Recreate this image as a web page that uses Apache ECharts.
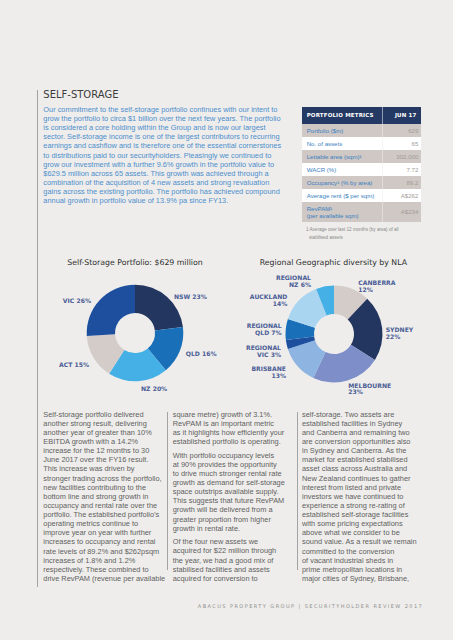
<!DOCTYPE html>
<html>
<head>
<meta charset="utf-8">
<script src="https://cdn.jsdelivr.net/npm/echarts@6/dist/echarts.min.js"></script>
<style>
html,body{margin:0;padding:0;background:#eeedeb;}
#page{position:relative;width:453px;height:640px;overflow:hidden;background:#eeedeb;}
#chart{position:absolute;left:0;top:0;width:453px;height:640px;}
.abs{position:absolute;white-space:nowrap;}
.vline{position:absolute;width:0.8px;background:#a3a3a3;}
#sectitle{left:43.3px;top:89px;font:10px/12px "DejaVu Sans",sans-serif;color:#3c3c3c;}
#intro{left:43.3px;top:104.7px;font:7.4px/9.17px "Liberation Sans",Arial,sans-serif;color:#4d8ecb;}
.col{position:absolute;top:409.7px;font:7.4px/9.12px "Liberation Sans",Arial,sans-serif;color:#5f5f5f;white-space:nowrap;}
.col p{margin:0 0 4.5px 0;}
#tbl{position:absolute;left:301.7px;top:106.7px;width:119px;}
.row{position:absolute;left:0;width:119px;}
.lab{position:absolute;left:5px;font:6.1px/7.3px "Liberation Sans",Arial,sans-serif;color:#3a7fc2;white-space:nowrap;}
.val{position:absolute;right:2.4px;font:6.1px/7.3px "Liberation Sans",Arial,sans-serif;color:#a29c98;white-space:nowrap;}
.hd{position:absolute;font:bold 5.5px/7px "DejaVu Sans",sans-serif;color:#fff;white-space:nowrap;letter-spacing:0.15px;}
#foot{left:306px;top:226.4px;font:4.6px/7.3px "Liberation Sans",Arial,sans-serif;color:#8a8a8a;}
#footer{right:29.8px;top:602.5px;font:5px/6px "DejaVu Sans",sans-serif;color:#8f8f8f;letter-spacing:1.44px;}
</style>
</head>
<body>
<div id="page">
  <div id="chart"></div>
  <div class="vline" style="left:37.3px;top:90px;height:497px;"></div>
  <div class="vline" style="left:166.8px;top:411.7px;height:158.5px;"></div>
  <div class="vline" style="left:296.8px;top:411.7px;height:158.5px;"></div>
  <div id="sectitle" class="abs">SELF-STORAGE</div>
  <div id="intro" class="abs"></div>
  <div id="tbl"></div>
  <div id="foot" class="abs">1 Average over last 12 months (by area) of all<br><span style="padding-left:3px">stabilised assets</span></div>
  <div id="col1" class="col" style="left:43.3px;"></div>
  <div id="col2" class="col" style="left:172.7px;"></div>
  <div id="col3" class="col" style="left:302px;"></div>
  <div id="footer" class="abs">ABACUS PROPERTY GROUP | SECURITYHOLDER REVIEW 2017</div>
</div>
<script>
// ---------- chart data ----------
const portfolioStates = ['NSW', 'QLD', 'NZ', 'ACT', 'VIC'];
const portfolioShares = [23, 16, 20, 15, 26];
const portfolioColors = ['#23365f', '#1a70b8', '#45b0e5', '#d3ccc8', '#1d4f9e'];

const regionNames = ['Canberra', 'Sydney', 'Melbourne', 'Brisbane', 'Regional VIC', 'Regional QLD', 'Auckland', 'Regional NZ'];
const regionShares = [12, 22, 23, 13, 3, 7, 14, 6];
const regionColors = ['#d3ccc8', '#23365f', '#7d8ec9', '#8eb4e2', '#1d4f9e', '#1a70b8', '#a9d5f1', '#45b0e5'];

const chartTitles = ['Self-Storage Portfolio: $629 million', 'Regional Geographic diversity by NLA'];

// ---------- table data ----------
const metricsHeader = ['PORTFOLIO METRICS', 'JUN 17'];
const metricLabels = ['Portfolio ($m)', 'No. of assets', 'Lettable area (sqm)¹', 'WACR (%)', 'Occupancy¹ (% by area)', 'Average rent ($ per sqm)', 'RevPAM¹<br>(per available sqm)'];
const metricValues = ['629', '65', '302,000', '7.72', '89.2', 'A$262', 'A$234'];

// ---------- text ----------
const introLines = [
 'Our commitment to the self-storage portfolio continues with our intent to',
 'grow the portfolio to circa $1 billion over the next few years. The portfolio',
 'is considered a core holding within the Group and is now our largest',
 'sector. Self-storage income is one of the largest contributors to recurring',
 'earnings and cashflow and is therefore one of the essential cornerstones',
 'to distributions paid to our securityholders. Pleasingly we continued to',
 'grow our investment with a further 9.6% growth in the portfolio value to',
 '$629.5 million across 65 assets. This growth was achieved through a',
 'combination of the acquisition of 4 new assets and strong revaluation',
 'gains across the existing portfolio. The portfolio has achieved compound',
 'annual growth in portfolio value of 13.9% pa since FY13.'
];
const col1Paras = [[
 'Self-storage portfolio delivered',
 'another strong result, delivering',
 'another year of greater than 10%',
 'EBITDA growth with a 14.2%',
 'increase for the 12 months to 30',
 'June 2017 over the FY16 result.',
 'This increase was driven by',
 'stronger trading across the portfolio,',
 'new facilities contributing to the',
 'bottom line and strong growth in',
 'occupancy and rental rate over the',
 'portfolio. The established portfolio\u2019s',
 'operating metrics continue to',
 'improve year on year with further',
 'increases to occupancy and rental',
 'rate levels of 89.2% and $262psqm',
 'increases of 1.8% and 1.2%',
 'respectively. These combined to',
 'drive RevPAM (revenue per available'
]];
const col2Paras = [[
 'square metre) growth of 3.1%.',
 'RevPAM is an important metric',
 'as it highlights how efficiently your',
 'established portfolio is operating.'
],[
 'With portfolio occupancy levels',
 'at 90% provides the opportunity',
 'to drive much stronger rental rate',
 'growth as demand for self-storage',
 'space outstrips available supply.',
 'This suggests that future RevPAM',
 'growth will be delivered from a',
 'greater proportion from higher',
 'growth in rental rate.'
],[
 'Of the four new assets we',
 'acquired for $22 million through',
 'the year, we had a good mix of',
 'stabilised facilities and assets',
 'acquired for conversion to'
]];
const col3Paras = [[
 'self-storage. Two assets are',
 'established facilities in Sydney',
 'and Canberra and remaining two',
 'are conversion opportunities also',
 'in Sydney and Canberra. As the',
 'market for established stabilised',
 'asset class across Australia and',
 'New Zealand continues to gather',
 'interest from listed and private',
 'investors we have continued to',
 'experience a strong re-rating of',
 'established self-storage facilities',
 'with some pricing expectations',
 'above what we consider to be',
 'sound value. As a result we remain',
 'committed to the conversion',
 'of vacant industrial sheds in',
 'prime metropolitan locations in',
 'major cities of Sydney, Brisbane,'
]];

function esc(s){return s.replace(/&/g,'&amp;').replace(/</g,'&lt;');}
document.getElementById('intro').innerHTML = introLines.map(esc).join('<br>');
function fillCol(id, paras){
  document.getElementById(id).innerHTML = paras.map(p => '<p>' + p.map(esc).join('<br>') + '</p>').join('');
}
fillCol('col1', col1Paras); fillCol('col2', col2Paras); fillCol('col3', col3Paras);

// table
(function(){
  const tbl = document.getElementById('tbl');
  let html = '<div class="row" style="top:0;height:17px;background:#243a64;">' +
    '<div class="hd" style="left:5px;top:5px;">' + metricsHeader[0] + '</div>' +
    '<div class="hd" style="right:4.2px;top:5px;">' + metricsHeader[1] + '</div></div>';
  let y = 17.8;
  metricLabels.forEach((lab, i) => {
    const last = i === metricLabels.length - 1;
    const h = last ? 20.1 : 12.9;
    const bg = i % 2 === 0 ? '#cfc8c4' : '#ffffff';
    const lt = last ? (h - 14.6) / 2 : (h - 7.3) / 2;
    html += '<div class="row" style="top:' + y + 'px;height:' + h + 'px;background:' + bg + ';">' +
      '<div class="lab" style="top:' + lt + 'px;">' + lab + '</div>' +
      '<div class="val" style="top:' + ((h - 7.3) / 2) + 'px;">' + metricValues[i] + '</div></div>';
    y += h;
  });
  html += '<div style="position:absolute;left:80px;top:0;width:1px;height:' + y + 'px;background:rgba(238,237,235,0.55);"></div>';
  tbl.innerHTML = html;
})();

// ---------- chart ----------
const leftLabelPos = [[174, 296, 'left'], [185.7, 353, 'left'], [141, 388.5, 'left'], [89, 364, 'right'], [91, 300, 'right']];
const rightLabelPos = [[358.3, 286, 'left'], [385.7, 332.7, 'left'], [348.3, 388.5, 'left'], [286, 371.9, 'right'], [281, 350.7, 'right'], [281.7, 329.3, 'right'], [287.3, 300, 'right'], [311, 281.3, 'right']];

const labelStyle = {color: '#4b5d96', fontFamily: 'DejaVu Sans', fontWeight: 'bold', fontSize: 6.1, lineHeight: 6.7};
const titleStyle = {fontFamily: 'DejaVu Sans', fontSize: 7.8, fontWeight: 'normal', color: '#2f2f2f'};

const chart = echarts.init(document.getElementById('chart'), null, {renderer: 'svg'});
chart.setOption({
  animation: false,
  backgroundColor: 'transparent',
  title: [
    {text: chartTitles[0], left: 135, top: 258.1, textAlign: 'center', padding: 0, textStyle: titleStyle},
    {text: chartTitles[1], left: 333.4, top: 258, textAlign: 'center', padding: 0, textStyle: titleStyle}
  ],
  series: [
    {
      type: 'pie', center: [135, 333], radius: [20, 48.3], startAngle: 90, clockwise: true,
      avoidLabelOverlap: false, silent: true,
      label: Object.assign({show: true, position: 'outside', formatter: p => p.name + ' ' + p.value + '%'}, labelStyle),
      labelLine: {show: false},
      labelLayout: p => ({x: leftLabelPos[p.dataIndex][0], y: leftLabelPos[p.dataIndex][1], align: leftLabelPos[p.dataIndex][2], verticalAlign: 'middle'}),
      data: portfolioStates.map((n, i) => ({name: n, value: portfolioShares[i], itemStyle: {color: portfolioColors[i]}}))
    },
    {
      type: 'pie', center: [334, 334], radius: [20, 48.5], startAngle: 90, clockwise: true,
      avoidLabelOverlap: false, silent: true,
      label: Object.assign({show: true, position: 'outside', formatter: p => {
        const parts = p.name.toUpperCase().split(' ');
        return parts.length > 1 ? parts[0] + '\n' + parts.slice(1).join(' ') + ' ' + p.value + '%' : parts[0] + '\n' + p.value + '%';
      }}, labelStyle),
      labelLine: {show: false},
      labelLayout: p => ({x: rightLabelPos[p.dataIndex][0], y: rightLabelPos[p.dataIndex][1], align: rightLabelPos[p.dataIndex][2], verticalAlign: 'middle'}),
      data: regionNames.map((n, i) => ({name: n, value: regionShares[i], itemStyle: {color: regionColors[i]}}))
    }
  ]
});
</script>
</body>
</html>
